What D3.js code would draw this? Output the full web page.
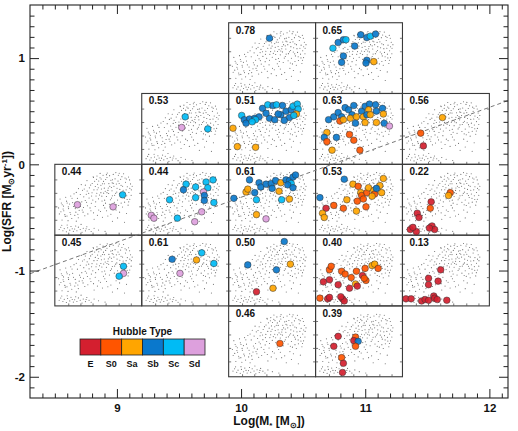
<!DOCTYPE html>
<html>
<head>
<meta charset="utf-8">
<script src="https://cdn.jsdelivr.net/npm/d3@7"></script>
<style>
body { margin: 0; background: #fff; }
svg { display: block; font-family: "Liberation Sans", Arial, sans-serif; }
</style>
</head>
<body>
<div class="contents"></div>
<script>
// axis values
const xTicks = [9, 10, 11, 12];
const yTicks = [-2, -1, 0, 1];

// bin edges of the panel grid (log mass, log SFR)
const massEdges = [8.5, 9.2, 9.9, 10.6, 11.3, 12.0];
const sfrEdges = [1.333, 0.667, 0, -0.667, -1.333, -2.0];

// panels: column / row in the grid and the number printed in the corner
const panelCol = [2, 3, 1, 2, 3, 4, 0, 1, 2, 3, 4, 0, 1, 2, 3, 4, 2, 3];
const panelRow = [0, 0, 1, 1, 1, 1, 2, 2, 2, 2, 2, 3, 3, 3, 3, 3, 4, 4];
const panelLabel = ["0.78", "0.65", "0.53", "0.51", "0.63", "0.56", "0.44", "0.44", "0.61",
  "0.53", "0.22", "0.45", "0.61", "0.50", "0.40", "0.13", "0.46", "0.39"];

const hubbleTypes = ["E", "S0", "Sa", "Sb", "Sc", "Sd"];
const hubbleColors = ["#d41f2f", "#ff5500", "#ffa500", "#0a78cc", "#00bbf5", "#dda0dd"];

// dashed relation across the whole plot
const msLine = [[8.3, -1.03], [12.15, 0.60]];

// background population, same in every panel (panel fractions u, v)
const bgDots = [
  [0.37,0.77],[0.43,0.73],[0.445,0.815],[0.485,0.835],[0.505,0.765],[0.53,0.705],[0.555,0.845],
  [0.585,0.785],[0.57,0.725],[0.615,0.665],[0.60,0.815],[0.645,0.775],[0.632,0.69],[0.672,0.858],
  [0.658,0.628],[0.693,0.795],[0.708,0.722],[0.716,0.662],[0.731,0.846],[0.744,0.587],[0.757,0.789],
  [0.762,0.703],[0.791,0.868],[0.786,0.634],[0.808,0.807],[0.813,0.748],[0.827,0.556],[0.834,0.683],
  [0.848,0.822],[0.852,0.603],[0.397,0.668],[0.428,0.598],[0.466,0.686],[0.487,0.641],[0.514,0.567],
  [0.536,0.652],[0.562,0.593],[0.594,0.546],[0.619,0.588],[0.652,0.523],[0.688,0.563],[0.722,0.497],
  [0.768,0.531],[0.803,0.466],[0.862,0.507],[0.351,0.706],[0.318,0.634],[0.304,0.714],[0.272,0.657],
  [0.247,0.604],[0.362,0.578],[0.394,0.524],[0.437,0.497],[0.474,0.553],[0.543,0.482],[0.583,0.452],
  [0.628,0.437],[0.684,0.463],[0.734,0.418],[0.779,0.398],[0.843,0.424],[0.878,0.562],[0.871,0.724],
  [0.603,0.877],[0.521,0.872],[0.702,0.883],[0.458,0.762],[0.548,0.726],[0.651,0.673],[0.748,0.646],
  [0.622,0.728],[0.727,0.763],[0.569,0.664],[0.671,0.731],[0.772,0.826],[0.492,0.718],[0.412,0.707],
  [0.338,0.652],[0.293,0.574],[0.221,0.583],[0.198,0.521],[0.183,0.553],[0.441,0.824],[0.533,0.793],
  [0.594,0.854],[0.663,0.782],[0.741,0.874],[0.823,0.792],[0.863,0.661],[0.793,0.581],[0.713,0.608],
  [0.611,0.632],[0.541,0.551],[0.483,0.592],[0.423,0.553],[0.372,0.623],[0.333,0.541],[0.502,0.513],
  [0.573,0.494],[0.662,0.557],[0.763,0.453],[0.832,0.503],[0.48,0.79],[0.52,0.81],[0.56,0.76],
  [0.63,0.84],[0.68,0.69],[0.74,0.73],[0.78,0.69],[0.82,0.64],[0.86,0.78],[0.88,0.64],[0.70,0.59],
  [0.60,0.60],[0.45,0.64],[0.39,0.59],[0.35,0.49],[0.42,0.45],[0.56,0.42],[0.71,0.43],[0.80,0.52],
  [0.76,0.56],[0.64,0.50],[0.53,0.60],[0.47,0.47],[0.26,0.52],[0.31,0.47],[0.58,0.62],[0.66,0.74],
  [0.85,0.47],[0.89,0.69],[0.50,0.67],
  [0.06,0.51],[0.075,0.455],[0.085,0.43],[0.095,0.37],[0.103,0.345],[0.115,0.29],[0.12,0.265],
  [0.125,0.535],[0.135,0.48],[0.142,0.455],[0.155,0.40],[0.158,0.375],[0.175,0.32],[0.182,0.295],
  [0.195,0.235],[0.205,0.46],[0.215,0.405],[0.235,0.375],[0.242,0.325],[0.265,0.295],[0.27,0.245],
  [0.285,0.435],[0.295,0.405],[0.315,0.355],[0.325,0.325],[0.345,0.275],[0.365,0.465],[0.375,0.415],
  [0.405,0.385],[0.415,0.345],[0.445,0.315],[0.465,0.405],[0.505,0.355],[0.525,0.335],[0.575,0.385],
  [0.595,0.345],[0.645,0.295],[0.705,0.355],[0.745,0.325],[0.825,0.305],[0.043,0.385],[0.052,0.30],
  [0.083,0.215],[0.152,0.205],[0.247,0.198],[0.452,0.224],[0.548,0.253],[0.663,0.197],[0.802,0.183],
  [0.722,0.244],[0.10,0.41],[0.17,0.44],[0.23,0.28],[0.33,0.39],[0.38,0.30],[0.49,0.28],[0.61,0.27],
  [0.07,0.33],[0.14,0.27],[0.28,0.35],
  [0.05,0.08],[0.068,0.112],[0.093,0.062],[0.108,0.093],[0.133,0.048],[0.147,0.104],[0.172,0.071],
  [0.186,0.122],[0.213,0.054],[0.228,0.087],[0.254,0.063],[0.271,0.113],[0.292,0.081],[0.313,0.042],
  [0.327,0.098],[0.352,0.061],[0.368,0.118],[0.394,0.079],[0.418,0.052],[0.452,0.097],[0.503,0.072],
  [0.578,0.054],[0.142,0.143],[0.302,0.152],[0.08,0.14],[0.2,0.09],[0.24,0.13],[0.36,0.09]
];

// galaxies: [panel, u, v, Hubble type]
const galaxies = [
  [0,0.47,0.78,"Sb"],
  [1,0.20,0.64,"Sc"],[1,0.26,0.72,"Sb"],[1,0.32,0.76,"Sb"],[1,0.35,0.76,"Sc"],[1,0.45,0.67,"Sb"],
  [1,0.52,0.83,"Sb"],[1,0.59,0.79,"Sb"],[1,0.63,0.81,"Sc"],[1,0.69,0.84,"Sb"],[1,0.32,0.53,"Sb"],
  [1,0.30,0.44,"Sb"],[1,0.59,0.47,"Sb"],[1,0.58,0.43,"Sb"],[1,0.67,0.45,"Sa"],
  [2,0.50,0.67,"Sc"],[2,0.46,0.52,"Sd"],[2,0.76,0.50,"Sc"],
  [3,0.05,0.51,"Sa"],[3,0.10,0.25,"Sa"],[3,0.31,0.24,"Sa"],[3,0.15,0.69,"Sc"],[3,0.18,0.63,"Sb"],
  [3,0.24,0.64,"Sb"],[3,0.30,0.65,"Sb"],[3,0.35,0.67,"Sb"],[3,0.39,0.79,"Sb"],[3,0.45,0.84,"Sc"],
  [3,0.51,0.83,"Sb"],[3,0.55,0.84,"Sc"],[3,0.62,0.83,"Sb"],[3,0.47,0.65,"Sb"],[3,0.53,0.63,"Sb"],
  [3,0.60,0.70,"Sb"],[3,0.66,0.75,"Sb"],[3,0.72,0.77,"Sb"],[3,0.74,0.82,"Sc"],[3,0.79,0.85,"Sc"],
  [3,0.80,0.78,"Sc"],[3,0.78,0.71,"Sa"],[3,0.70,0.66,"Sb"],[3,0.75,0.69,"Sc"],[3,0.43,0.72,"Sb"],
  [3,0.31,0.63,"Sc"],[3,0.20,0.58,"Sb"],[3,0.64,0.62,"Sb"],[3,0.57,0.71,"Sb"],[3,0.27,0.60,"Sc"],
  [4,0.15,0.63,"Sb"],[4,0.21,0.67,"Sb"],[4,0.26,0.73,"Sb"],[4,0.30,0.67,"Sb"],[4,0.28,0.61,"S0"],
  [4,0.32,0.63,"Sa"],[4,0.34,0.80,"Sb"],[4,0.38,0.77,"Sb"],[4,0.44,0.83,"Sb"],[4,0.42,0.70,"Sb"],
  [4,0.40,0.65,"Sa"],[4,0.47,0.67,"Sa"],[4,0.46,0.58,"Sb"],[4,0.53,0.75,"Sb"],[4,0.57,0.82,"Sb"],
  [4,0.62,0.85,"Sb"],[4,0.61,0.77,"Sa"],[4,0.55,0.67,"Sa"],[4,0.59,0.70,"Sb"],[4,0.63,0.70,"Sa"],
  [4,0.69,0.84,"Sb"],[4,0.70,0.75,"Sb"],[4,0.77,0.79,"Sb"],[4,0.78,0.71,"Sa"],[4,0.70,0.59,"Sa"],
  [4,0.79,0.58,"Sb"],[4,0.85,0.54,"Sd"],[4,0.57,0.59,"Sa"],[4,0.39,0.42,"S0"],[4,0.13,0.45,"Sa"],
  [4,0.24,0.38,"Sb"],[4,0.10,0.38,"Sb"],[4,0.13,0.32,"S0"],[4,0.44,0.34,"S0"],[4,0.19,0.20,"Sa"],
  [4,0.51,0.20,"S0"],
  [5,0.46,0.66,"Sa"],[5,0.21,0.44,"S0"],[5,0.24,0.26,"E"],
  [6,0.26,0.43,"Sd"],[6,0.67,0.40,"Sd"],[6,0.78,0.57,"Sc"],
  [7,0.51,0.72,"Sc"],[7,0.48,0.64,"Sb"],[7,0.62,0.68,"Sc"],[7,0.74,0.75,"Sc"],[7,0.82,0.78,"Sc"],
  [7,0.76,0.67,"Sc"],[7,0.71,0.61,"Sd"],[7,0.72,0.56,"Sb"],[7,0.62,0.53,"Sc"],[7,0.72,0.49,"Sb"],
  [7,0.32,0.50,"Sc"],[7,0.83,0.46,"Sc"],[7,0.69,0.33,"Sd"],[7,0.11,0.28,"Sd"],[7,0.14,0.24,"Sd"],
  [7,0.41,0.24,"Sc"],[7,0.61,0.19,"Sd"],
  [8,0.06,0.52,"Sb"],[8,0.24,0.78,"Sb"],[8,0.20,0.61,"Sa"],[8,0.22,0.65,"Sa"],[8,0.30,0.60,"Sb"],
  [8,0.35,0.74,"Sb"],[8,0.37,0.68,"Sb"],[8,0.43,0.72,"Sb"],[8,0.49,0.73,"Sb"],[8,0.54,0.77,"Sb"],
  [8,0.60,0.74,"Sa"],[8,0.66,0.78,"Sb"],[8,0.70,0.77,"Sb"],[8,0.74,0.82,"Sb"],[8,0.77,0.85,"Sb"],
  [8,0.72,0.73,"Sc"],[8,0.68,0.71,"Sb"],[8,0.74,0.67,"Sb"],[8,0.58,0.62,"Sa"],[8,0.32,0.50,"Sc"],
  [8,0.70,0.51,"Sa"],[8,0.61,0.50,"Sc"],[8,0.32,0.29,"Sa"],[8,0.43,0.23,"Sd"],[8,0.50,0.66,"Sb"],
  [9,0.33,0.79,"Sb"],[9,0.05,0.53,"Sb"],[9,0.43,0.72,"Sa"],[9,0.49,0.69,"S0"],[9,0.52,0.60,"Sa"],
  [9,0.53,0.56,"S0"],[9,0.59,0.60,"S0"],[9,0.61,0.67,"Sa"],[9,0.67,0.63,"Sa"],[9,0.68,0.58,"S0"],
  [9,0.74,0.70,"Sa"],[9,0.78,0.80,"Sa"],[9,0.76,0.60,"Sa"],[9,0.65,0.55,"Sa"],[9,0.55,0.51,"S0"],
  [9,0.36,0.50,"Sa"],[9,0.48,0.48,"S0"],[9,0.21,0.42,"S0"],[9,0.12,0.38,"E"],[9,0.32,0.38,"S0"],
  [9,0.08,0.31,"Sa"],[9,0.10,0.25,"Sa"],[9,0.47,0.34,"Sa"],[9,0.58,0.40,"S0"],[9,0.70,0.66,"Sb"],
  [10,0.55,0.60,"S0"],[10,0.53,0.56,"Sa"],[10,0.33,0.47,"E"],[10,0.32,0.38,"S0"],[10,0.17,0.31,"E"],
  [10,0.19,0.25,"E"],[10,0.09,0.08,"E"],[10,0.16,0.05,"E"],[10,0.12,0.11,"E"],[10,0.34,0.13,"E"],
  [10,0.37,0.08,"E"],[10,0.31,0.10,"E"],
  [11,0.79,0.56,"Sc"],[11,0.79,0.46,"Sd"],[11,0.74,0.42,"Sc"],
  [12,0.35,0.66,"Sb"],[12,0.63,0.65,"Sa"],[12,0.69,0.75,"Sc"],[12,0.83,0.60,"Sc"],[12,0.44,0.46,"Sd"],
  [13,0.64,0.91,"Sb"],[13,0.22,0.58,"Sb"],[13,0.55,0.51,"Sb"],[13,0.71,0.59,"Sa"],[13,0.51,0.25,"Sa"],
  [13,0.32,0.20,"E"],
  [14,0.16,0.51,"S0"],[14,0.18,0.56,"S0"],[14,0.09,0.34,"E"],[14,0.16,0.37,"E"],[14,0.26,0.30,"E"],
  [14,0.30,0.49,"S0"],[14,0.34,0.45,"S0"],[14,0.41,0.40,"S0"],[14,0.39,0.25,"E"],[14,0.47,0.49,"S0"],
  [14,0.46,0.31,"Sa"],[14,0.48,0.28,"E"],[14,0.57,0.53,"S0"],[14,0.54,0.43,"E"],[14,0.58,0.36,"S0"],
  [14,0.56,0.39,"S0"],[14,0.65,0.57,"Sa"],[14,0.68,0.59,"Sa"],[14,0.72,0.53,"S0"],[14,0.05,0.11,"S0"],
  [14,0.14,0.10,"E"],[14,0.16,0.12,"E"],[14,0.31,0.10,"E"],[14,0.33,0.07,"E"],[14,0.29,0.13,"E"],
  [15,0.44,0.51,"E"],[15,0.30,0.39,"E"],[15,0.30,0.30,"E"],[15,0.41,0.35,"E"],[15,0.04,0.10,"E"],
  [15,0.10,0.10,"E"],[15,0.22,0.07,"E"],[15,0.26,0.09,"E"],[15,0.30,0.08,"E"],[15,0.36,0.14,"E"],
  [15,0.37,0.11,"E"],[15,0.40,0.09,"E"],[15,0.51,0.08,"E"],
  [16,0.59,0.47,"S0"],
  [17,0.26,0.57,"E"],[17,0.21,0.43,"E"],[17,0.46,0.56,"S0"],[17,0.44,0.51,"E"],[17,0.49,0.50,"Sb"],
  [17,0.46,0.43,"S0"],[17,0.30,0.27,"S0"],[17,0.32,0.19,"E"],[17,0.31,0.06,"E"]
];

const width = 518, height = 431;
const margin = {left: 30, right: 10, top: 5, bottom: 33};

const x = d3.scaleLinear().domain([8.3, 12.15]).range([margin.left, width - margin.right]);
const y = d3.scaleLinear().domain([-2.2, 1.5]).range([height - margin.bottom, margin.top]);
const color = d3.scaleOrdinal().domain(hubbleTypes).range(hubbleColors);

const svg = d3.select(".contents").append("svg")
    .attr("width", width)
    .attr("height", height);

// panels
const panels = panelLabel.map((label, i) => {
  const px = d3.scaleLinear().domain([0, 1])
      .range([x(massEdges[panelCol[i]]), x(massEdges[panelCol[i] + 1])]);
  const py = d3.scaleLinear().domain([0, 1])
      .range([y(sfrEdges[panelRow[i] + 1]), y(sfrEdges[panelRow[i]])]);
  return {i, label, px, py};
});

const pg = svg.append("g").selectAll("g")
  .data(panels)
  .join("g");

pg.append("rect")
    .attr("x", d => d.px(0))
    .attr("y", d => d.py(1))
    .attr("width", d => d.px(1) - d.px(0))
    .attr("height", d => d.py(0) - d.py(1))
    .attr("fill", "none")
    .attr("stroke", "#3a3a3a")
    .attr("stroke-width", 1.1);

// little inner ticks of each panel
const uTicks = [0.16, 0.30, 0.44, 0.59, 0.74, 0.88];
const vTicks = [0.21, 0.40, 0.59, 0.78];
pg.each(function(d) {
  const g = d3.select(this);
  g.selectAll(".tb").data(uTicks).join("line")
      .attr("x1", u => d.px(u)).attr("x2", u => d.px(u))
      .attr("y1", d.py(0)).attr("y2", d.py(0) - 2.5)
      .attr("stroke", "#555").attr("stroke-width", 0.8);
  g.selectAll(".tl").data(vTicks).join("line")
      .attr("x1", d.px(0)).attr("x2", d.px(0) + 2.5)
      .attr("y1", v => d.py(v)).attr("y2", v => d.py(v))
      .attr("stroke", "#555").attr("stroke-width", 0.8);
  g.selectAll(".tr").data(vTicks).join("line")
      .attr("x1", d.px(1)).attr("x2", d.px(1) - 2.5)
      .attr("y1", v => d.py(v)).attr("y2", v => d.py(v))
      .attr("stroke", "#555").attr("stroke-width", 0.8);
  g.selectAll(".dot").data(bgDots).join("circle")
      .attr("cx", p => d.px(p[0]))
      .attr("cy", p => d.py(p[1]))
      .attr("r", 0.55)
      .attr("fill", "#6e6e6e");
});

pg.append("text")
    .attr("x", d => d.px(0) + 7)
    .attr("y", d => d.py(1) + 11)
    .attr("font-size", 10)
    .attr("font-weight", "bold")
    .attr("fill", "#111")
    .text(d => d.label);

// dashed line
svg.append("path")
    .datum(msLine)
    .attr("fill", "none")
    .attr("stroke", "#777")
    .attr("stroke-width", 1)
    .attr("stroke-dasharray", "4,3")
    .attr("d", d3.line().x(d => x(d[0])).y(d => y(d[1])));

// galaxies
svg.append("g").selectAll("circle")
  .data(galaxies)
  .join("circle")
    .attr("cx", d => panels[d[0]].px(d[1]))
    .attr("cy", d => panels[d[0]].py(d[2]))
    .attr("r", 3.3)
    .attr("fill", d => color(d[3]))
    .attr("fill-opacity", 0.92)
    .attr("stroke", "#333")
    .attr("stroke-width", 0.5);

// frame and axes (ticks point inward)
const x0 = x.range()[0], x1 = x.range()[1], y0 = y.range()[0], y1 = y.range()[1];
const minorX = d3.range(84, 122).map(d => d / 10).filter(d => Math.round(d * 10) % 10 !== 0);
const minorY = d3.range(-21, 15).map(d => d / 10).filter(d => Math.round(d * 10) % 10 !== 0);

function addAxis(axis, tx, ty, labels) {
  const g = svg.append("g").attr("transform", `translate(${tx},${ty})`).call(axis);
  g.select(".domain").remove();
  g.selectAll("line").attr("stroke", "#222");
  if (!labels) g.selectAll("text").remove();
  return g;
}

const fmt = d => String(d);
const gx = addAxis(d3.axisBottom(x).tickValues(xTicks).tickSize(-9).tickPadding(6).tickFormat(fmt), 0, y0, true);
addAxis(d3.axisBottom(x).tickValues(minorX).tickSize(-4.5), 0, y0, false);
addAxis(d3.axisTop(x).tickValues(xTicks).tickSize(-9), 0, y1, false);
addAxis(d3.axisTop(x).tickValues(minorX).tickSize(-4.5), 0, y1, false);
const gy = addAxis(d3.axisLeft(y).tickValues(yTicks).tickSize(-9).tickPadding(5).tickFormat(fmt), x0, 0, true);
addAxis(d3.axisLeft(y).tickValues(minorY).tickSize(-4.5), x0, 0, false);
addAxis(d3.axisRight(y).tickValues(yTicks).tickSize(-9), x1, 0, false);
addAxis(d3.axisRight(y).tickValues(minorY).tickSize(-4.5), x1, 0, false);

[gx, gy].forEach(g => g.selectAll("text")
    .attr("font-size", 11.5)
    .attr("font-weight", "bold")
    .attr("font-family", "'Liberation Sans', Arial, sans-serif")
    .attr("fill", "#111"));

svg.append("rect")
    .attr("x", x0).attr("y", y1)
    .attr("width", x1 - x0).attr("height", y0 - y1)
    .attr("fill", "none")
    .attr("stroke", "#222")
    .attr("stroke-width", 1.1);

// axis titles
const xt = svg.append("text")
    .attr("x", (x0 + x1) / 2)
    .attr("y", height - 6)
    .attr("text-anchor", "middle")
    .attr("font-size", 12)
    .attr("font-weight", "bold")
    .attr("fill", "#111");
xt.append("tspan").text("Log(M");
xt.append("tspan").attr("font-size", 8).attr("dy", 3).text("*");
xt.append("tspan").attr("dy", -3).text(" [M");
xt.append("tspan").attr("font-size", 8).attr("dy", 3).text("⊙");
xt.append("tspan").attr("dy", -3).text("])");

const yt = svg.append("text")
    .attr("transform", `translate(11,${(y0 + y1) / 2}) rotate(-90)`)
    .attr("text-anchor", "middle")
    .attr("font-size", 12)
    .attr("font-weight", "bold")
    .attr("fill", "#111");
yt.append("tspan").text("Log(SFR [M");
yt.append("tspan").attr("font-size", 8).attr("dy", 3).text("⊙");
yt.append("tspan").attr("dy", -3).text("yr");
yt.append("tspan").attr("font-size", 8).attr("dy", -4).text("-1");
yt.append("tspan").attr("dy", 4).text("])");

// legend
const lx = d3.scaleBand().domain(hubbleTypes).range([80, 205]);
const legend = svg.append("g");
legend.append("text")
    .attr("x", 142.5).attr("y", 335)
    .attr("text-anchor", "middle")
    .attr("font-size", 10)
    .attr("font-weight", "bold")
    .attr("fill", "#111")
    .text("Hubble Type");
legend.selectAll("rect")
  .data(hubbleTypes)
  .join("rect")
    .attr("x", d => lx(d))
    .attr("y", 339)
    .attr("width", lx.bandwidth())
    .attr("height", 16)
    .attr("fill", d => color(d))
    .attr("stroke", "#222")
    .attr("stroke-width", 0.8);
legend.selectAll(".lab")
  .data(hubbleTypes)
  .join("text")
    .attr("x", d => lx(d) + lx.bandwidth() / 2)
    .attr("y", 367)
    .attr("text-anchor", "middle")
    .attr("font-size", 9)
    .attr("font-weight", "bold")
    .attr("fill", "#111")
    .text(d => d);
</script>
</body>
</html>
